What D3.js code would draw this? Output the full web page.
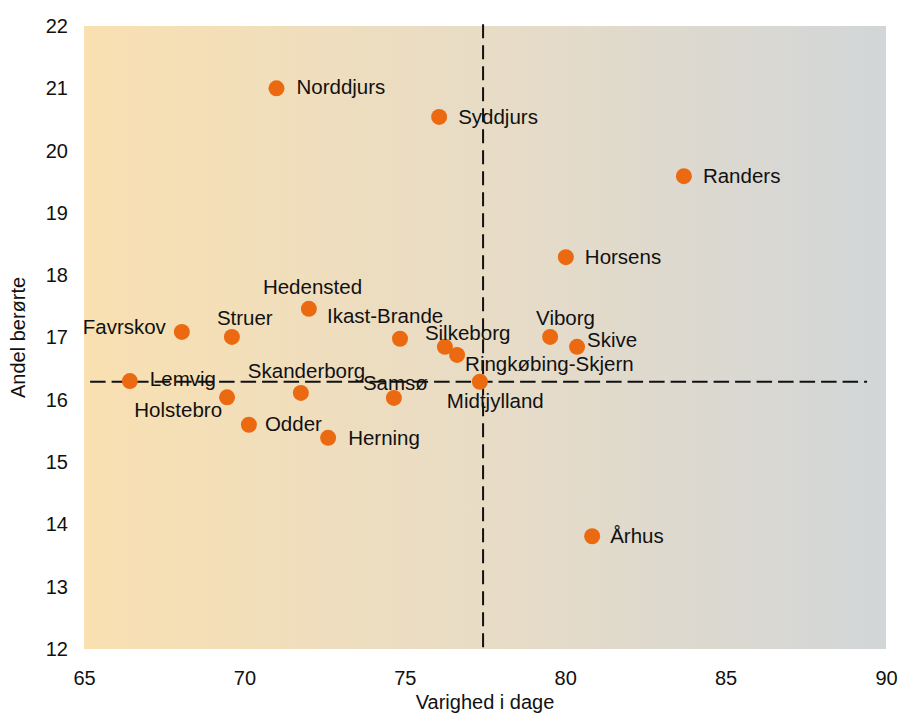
<!DOCTYPE html>
<html>
<head>
<meta charset="utf-8">
<script src="https://d3js.org/d3.v7.min.js"></script>
<style>
body { margin: 0; background: #fff; }
text { font-family: "Liberation Sans", Arial, sans-serif; fill: #111; }
</style>
</head>
<body>
<div id="chart"></div>
<script>

// data
var kommuner = ["Norddjurs", "Syddjurs", "Randers", "Horsens", "Hedensted", "Favrskov",
  "Struer", "Ikast-Brande", "Silkeborg", "Ringkøbing-Skjern", "Viborg", "Skive",
  "Midtjylland", "Samsø", "Herning", "Lemvig", "Holstebro", "Odder", "Skanderborg", "Århus"];
var varighed = [71.0, 76.07, 83.7, 80.02, 72.01, 68.05,
  69.61, 74.85, 76.25, 76.63, 79.53, 80.37,
  77.34, 74.66, 72.61, 66.43, 69.46, 70.14, 71.76, 80.84];
var andel = [21.0, 20.54, 19.59, 18.29, 17.46, 17.09,
  17.01, 16.98, 16.85, 16.72, 17.01, 16.85,
  16.29, 16.03, 15.39, 16.30, 16.04, 15.60, 16.11, 13.81];

var xTicks = [65, 70, 75, 80, 85, 90];
var yTicks = [12, 13, 14, 15, 16, 17, 18, 19, 20, 21, 22];

// reference (average) lines
var avgX = 77.44, avgY = 16.29;
var avgXSpan = [22.03, 12.03];
var avgYSpan = [65.19, 89.41];

// label placement: [dx, dy, anchor]
var labelPos = {
  "Norddjurs": [20, 6, "start"],
  "Syddjurs": [19, 7, "start"],
  "Randers": [19, 7, "start"],
  "Horsens": [19, 7, "start"],
  "Hedensted": [-46, -15, "start"],
  "Favrskov": [-16, 2, "end"],
  "Struer": [-15, -12, "start"],
  "Ikast-Brande": [-73, -16, "start"],
  "Silkeborg": [-20, -7, "start"],
  "Ringkøbing-Skjern": [8, 16, "start"],
  "Viborg": [-14, -12, "start"],
  "Skive": [10, 0, "start"],
  "Midtjylland": [-33, 26, "start"],
  "Samsø": [-31, -8, "start"],
  "Herning": [20, 7, "start"],
  "Lemvig": [20, 5, "start"],
  "Holstebro": [-5, 20, "end"],
  "Odder": [16, 6, "start"],
  "Skanderborg": [-53, -15, "start"],
  "Århus": [18, 7, "start"]
};

var margin = {top: 26, right: 14, bottom: 66, left: 84},
    width = 900 - margin.left - margin.right,
    height = 715 - margin.top - margin.bottom;

var svg = d3.select("#chart")
  .append("svg")
    .attr("width", 900)
    .attr("height", 715)
  .append("g")
    .attr("transform", "translate(" + margin.left + "," + margin.top + ")");

var x = d3.scaleLinear().domain([65, 90]).range([0, width]);
var y = d3.scaleLinear().domain([12, 22]).range([height, 0]);

// background gradient
var grad = svg.append("defs").append("linearGradient")
  .attr("id", "bg")
  .attr("x1", "0%").attr("x2", "100%").attr("y1", "0%").attr("y2", "0%");
grad.append("stop").attr("offset", "0%").attr("stop-color", "#f9e0b1");
grad.append("stop").attr("offset", "50%").attr("stop-color", "#e8dcc6");
grad.append("stop").attr("offset", "100%").attr("stop-color", "#d2d6d8");

svg.append("rect")
  .attr("x", 0).attr("y", 0)
  .attr("width", width).attr("height", height)
  .attr("fill", "url(#bg)");

// axes (labels only)
var xAxis = svg.append("g")
  .attr("transform", "translate(0," + height + ")")
  .call(d3.axisBottom(x).tickValues(xTicks).tickSize(0).tickPadding(22));
xAxis.select(".domain").remove();
xAxis.selectAll("text")
  .style("font-size", "20px")
  .style("font-family", "Liberation Sans, Arial, sans-serif")
  .attr("fill", "#111");

var yAxis = svg.append("g")
  .call(d3.axisLeft(y).tickValues(yTicks).tickSize(0).tickPadding(16));
yAxis.select(".domain").remove();
yAxis.selectAll("text")
  .style("font-size", "20px")
  .style("font-family", "Liberation Sans, Arial, sans-serif")
  .attr("fill", "#111");

// axis titles
svg.append("text")
  .attr("x", width / 2)
  .attr("y", height + 60)
  .attr("text-anchor", "middle")
  .style("font-size", "20px")
  .text("Varighed i dage");

svg.append("text")
  .attr("transform", "rotate(-90)")
  .attr("x", -height / 2)
  .attr("y", -84 + 25)
  .attr("text-anchor", "middle")
  .style("font-size", "20px")
  .text("Andel berørte");

// dashed reference lines
svg.append("line")
  .attr("x1", x(avgX)).attr("x2", x(avgX))
  .attr("y1", y(avgXSpan[0])).attr("y2", y(avgXSpan[1]))
  .attr("stroke", "#111").attr("stroke-width", 2)
  .attr("stroke-dasharray", "14,7");

svg.append("line")
  .attr("x1", x(avgYSpan[0])).attr("x2", x(avgYSpan[1]))
  .attr("y1", y(avgY)).attr("y2", y(avgY))
  .attr("stroke", "#111").attr("stroke-width", 2)
  .attr("stroke-dasharray", "15.5,6");

var data = kommuner.map(function(k, i) {
  return {name: k, x: varighed[i], y: andel[i]};
});

// points
svg.selectAll(".dot")
  .data(data)
  .enter()
  .append("circle")
    .attr("class", "dot")
    .attr("cx", function(d) { return x(d.x); })
    .attr("cy", function(d) { return y(d.y); })
    .attr("r", 8)
    .attr("fill", "#eb6910");

// labels
svg.selectAll(".lbl")
  .data(data)
  .enter()
  .append("text")
    .attr("class", "lbl")
    .attr("x", function(d) { return x(d.x) + labelPos[d.name][0]; })
    .attr("y", function(d) { return y(d.y) + labelPos[d.name][1]; })
    .attr("text-anchor", function(d) { return labelPos[d.name][2]; })
    .style("font-size", "20.5px")
    .text(function(d) { return d.name; });

</script>
</html>
